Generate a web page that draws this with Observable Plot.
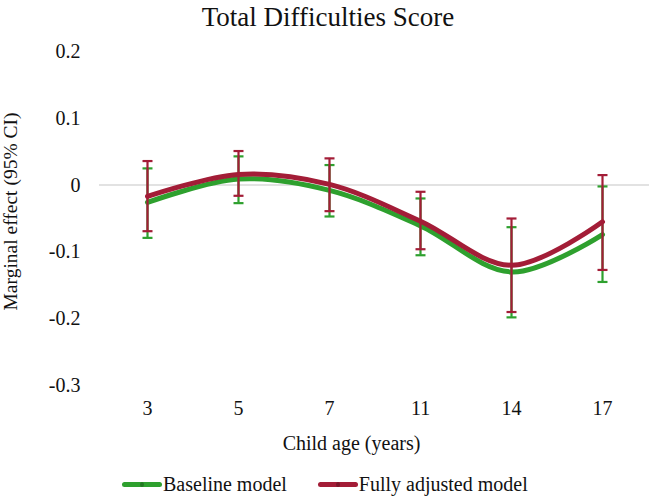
<!DOCTYPE html>
<html>
<head>
<meta charset="utf-8">
<script src="https://cdn.jsdelivr.net/npm/d3@7"></script>
<script src="https://cdn.jsdelivr.net/npm/@observablehq/plot@0.6"></script>
<style>
  html, body { margin: 0; padding: 0; background: #fff; }
  body { width: 650px; height: 497px; overflow: hidden; font-family: "Liberation Serif", "Times New Roman", serif; color: #111; }
  #title { height: 30px; line-height: 35px; font-size: 27px; text-align: center; padding-left: 6px; white-space: nowrap; }
  #legend { height: 26px; padding-top: 1px; display: flex; align-items: center; padding-left: 122px; font-size: 20px; line-height: 22px; white-space: nowrap; }
  .item { display: flex; align-items: center; }
  .swatch { position: relative; width: 40px; height: 5px; border-radius: 3px; margin-right: 1px; }
  .swatch::after { content: ""; position: absolute; left: 18px; top: 0px; width: 4px; height: 5px; border-radius: 50%; background: rgba(0,0,0,0.25); }
</style>
</head>
<body>
<div id="title">Total Difficulties Score</div>
<div id="chart"></div>
<div id="legend"></div>
<script>
// Categories (child age in years)
const ages = ["3", "5", "7", "11", "14", "17"];
// Baseline model: marginal effect and 95% CI
const baselineEffect = [-0.026, 0.009, -0.008, -0.061, -0.130, -0.074];
const baselineLow    = [-0.079, -0.027, -0.047, -0.105, -0.198, -0.145];
const baselineHigh   = [0.025, 0.043, 0.030, -0.020, -0.063, -0.002];
// Fully adjusted model: marginal effect and 95% CI
const adjustedEffect = [-0.017, 0.016, 0.001, -0.054, -0.120, -0.055];
const adjustedLow    = [-0.069, -0.016, -0.039, -0.096, -0.190, -0.127];
const adjustedHigh   = [0.036, 0.051, 0.040, -0.010, -0.050, 0.015];
// Axis ticks
const yTicks = [-0.3, -0.2, -0.1, 0, 0.1, 0.2];
const seriesNames = ["Baseline model", "Fully adjusted model"];
const seriesColors = ["#2ea02e", "#a31d37"];

const rows = (name, eff, lo, hi) => ages.map((a, i) => ({series: name, age: a, effect: eff[i], low: lo[i], high: hi[i]}));
const baseline = rows(seriesNames[0], baselineEffect, baselineLow, baselineHigh);
const adjusted = rows(seriesNames[1], adjustedEffect, adjustedLow, adjustedHigh);

const capSymbol = {
  draw(ctx, size) {
    const w = Math.sqrt(size / Math.PI);
    ctx.moveTo(-w, 0);
    ctx.lineTo(w, 0);
  }
};

function seriesMarks(data, color) {
  return [
    Plot.line(data, {x: "age", y: "effect", stroke: color, strokeWidth: 5, curve: "catmull-rom", strokeLinecap: "round"}),
    Plot.ruleX(data, {x: "age", y1: "low", y2: "high", stroke: color, strokeWidth: 2.2}),
    Plot.dot(data, {x: "age", y: "low", symbol: capSymbol, r: 5, stroke: color, strokeWidth: 2.2}),
    Plot.dot(data, {x: "age", y: "high", symbol: capSymbol, r: 5, stroke: color, strokeWidth: 2.2})
  ];
}

const chart = Plot.plot({
  width: 650,
  height: 440,
  marginTop: 21,
  marginBottom: 85,
  marginLeft: 99,
  marginRight: 1,
  style: {fontFamily: "'Liberation Serif', 'Times New Roman', serif", fontSize: "20px", color: "#111", background: "white"},
  x: {type: "point", domain: ages, padding: 0.5, label: null},
  y: {domain: [-0.3, 0.2], label: null},
  marks: [
    Plot.ruleY([0], {stroke: "#d9d9d9", strokeWidth: 1.5}),
    Plot.axisY({ticks: yTicks, tickSize: 0, tickPadding: 19, tickFormat: d => String(d), label: null, fontSize: 20}),
    Plot.axisX({tickSize: 0, tickPadding: 15, label: null, fontSize: 20}),
    Plot.text(["Child age (years)"], {frameAnchor: "bottom", textAnchor: "middle", lineAnchor: "middle", dx: -23, dy: 58.5, fontSize: 20, fill: "#111"}),
    Plot.text(["Marginal effect (95% CI)"], {frameAnchor: "left", textAnchor: "middle", lineAnchor: "middle", rotate: -90, dx: -89, dy: -7, fontSize: 19.5, fill: "#111"}),
    ...seriesMarks(baseline, seriesColors[0]),
    ...seriesMarks(adjusted, seriesColors[1])
  ]
});
document.getElementById("chart").appendChild(chart);

const legend = document.getElementById("legend");
seriesNames.forEach((name, i) => {
  const item = document.createElement("div");
  item.className = "item";
  if (i > 0) item.style.marginLeft = "31px";
  const sw = document.createElement("span");
  sw.className = "swatch";
  sw.style.background = seriesColors[i];
  const label = document.createElement("span");
  label.textContent = name;
  item.appendChild(sw);
  item.appendChild(label);
  legend.appendChild(item);
});
</script>
</body>
</html>
